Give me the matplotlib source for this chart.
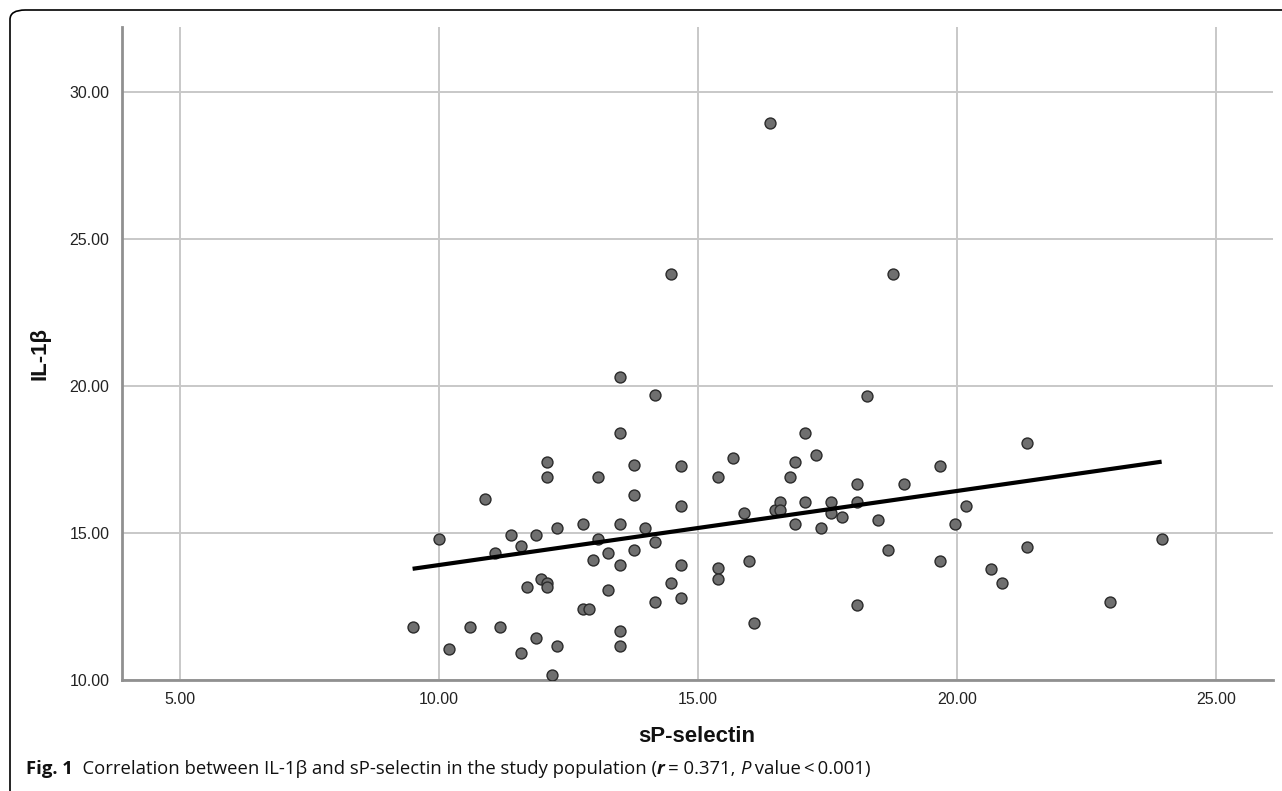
import numpy as np
import matplotlib.pyplot as plt
from matplotlib.patches import FancyBboxPatch

# sP-selectin (x) und IL-1beta (y)
sp_selectin = [9.49, 10.00, 10.19, 10.59, 10.89, 11.08, 11.18, 11.38, 11.59, 11.59,
               11.69, 11.88, 11.88, 11.97, 12.09, 12.09, 12.09, 12.09, 12.18, 12.28,
               12.28, 12.78, 12.78, 12.89, 12.98, 13.07, 13.07, 13.27, 13.27, 13.49,
               13.49, 13.49, 13.49, 13.49, 13.49, 13.77, 13.77, 13.77, 13.98, 14.17,
               14.17, 14.17, 14.48, 14.48, 14.67, 14.67, 14.67, 14.67, 15.38, 15.38,
               15.38, 15.68, 15.88, 15.98, 16.08, 16.38, 16.48, 16.58, 16.59, 16.78,
               16.88, 16.88, 17.07, 17.07, 17.27, 17.37, 17.57, 17.57, 17.77, 18.07,
               18.07, 18.07, 18.27, 18.47, 18.67, 18.77, 18.97, 19.67, 19.67, 19.96,
               20.17, 20.66, 20.86, 21.36, 21.36, 22.96, 23.95]
il_1b = [11.81, 14.80, 11.04, 11.81, 16.16, 14.31, 11.81, 14.93, 14.55, 10.92,
         13.17, 14.93, 11.44, 13.43, 17.42, 16.92, 13.31, 13.17, 10.17, 15.17,
         11.17, 15.30, 12.42, 12.42, 14.07, 16.92, 14.80, 14.31, 13.07, 20.31,
         18.42, 15.30, 13.92, 11.67, 11.17, 17.30, 16.30, 14.43, 15.18, 19.71,
         14.68, 12.67, 23.82, 13.29, 17.29, 15.93, 13.92, 12.80, 16.92, 13.80,
         13.43, 17.55, 15.68, 14.05, 11.93, 28.94, 15.79, 16.06, 15.79, 16.92,
         17.41, 15.30, 18.42, 16.06, 17.66, 15.17, 16.06, 15.68, 15.55, 16.66,
         16.06, 12.54, 19.67, 15.43, 14.43, 23.82, 16.66, 17.29, 14.05, 15.30,
         15.93, 13.79, 13.30, 18.06, 14.54, 12.67, 14.81]

x_ticks = [5, 10, 15, 20, 25]
y_ticks = [10, 15, 20, 25, 30]

x = np.array(sp_selectin)
y = np.array(il_1b)

W, H = 1282, 791
fig = plt.figure(figsize=(W / 100, H / 100), dpi=100)
ax = fig.add_axes([122 / W, 1 - 680 / H, (1273 - 122) / W, (680 - 27) / H])

ax.set_xlim(3.88, 26.1)
ax.set_ylim(10, 32.22)
ax.set_xticks(x_ticks)
ax.set_yticks(y_ticks)
ax.set_xticklabels(['%.2f' % v for v in x_ticks])
ax.set_yticklabels(['%.2f' % v for v in y_ticks])
ax.tick_params(length=0, labelsize=11.5, labelcolor='#222222', pad=9,
               labelfontfamily='Liberation Sans')
ax.grid(True, color='#c8c8c8', linewidth=1.4)
ax.set_axisbelow(True)
for s in ['top', 'right']:
    ax.spines[s].set_visible(False)
ax.spines['left'].set_color('#909090')
ax.spines['left'].set_linewidth(2)
ax.spines['bottom'].set_color('#909090')
ax.spines['bottom'].set_linewidth(2)

ax.scatter(x, y, s=62, facecolor='#6f6f6f', edgecolor='#2a2a2a', linewidth=1.0, zorder=3)

# Regressionsgerade
m, b = np.polyfit(x, y, 1)
xl = np.array([x.min(), x.max()])
ax.plot(xl, m * xl + b, color='black', linewidth=3, zorder=4, solid_capstyle='butt')

fig.text(697 / W, 1 - 737 / H, 'sP-selectin', ha='center', va='center',
         fontsize=16, fontweight='bold', family='Liberation Sans', color='#111111')
fig.text(40 / W, 1 - 354 / H, 'IL-1β', ha='center', va='center', rotation=90,
         fontsize=16, fontweight='bold', family='Liberation Sans', color='#111111')

# Rahmen
frame = FancyBboxPatch((10 / W, 1 - 800 / H), 1300 / W, 790 / H,
                       boxstyle='round,pad=0,rounding_size=0.012',
                       transform=fig.transFigure, facecolor='none',
                       edgecolor='black', linewidth=1.2, clip_on=False)
fig.patches.append(frame)

# Bildunterschrift
parts = [('Fig. 1', 'bold', 'normal'),
         ('  Correlation between IL-1β and sP-selectin in the study population (', 'normal', 'normal'),
         ('r', 'bold', 'italic'),
         ('\u2009= 0.371, ', 'normal', 'normal'),
         ('P', 'normal', 'italic'),
         (' value\u2009<\u20090.001)', 'normal', 'normal')]
fig.canvas.draw()
r = fig.canvas.get_renderer()
xpos = 26
for txt, w, st in parts:
    t = fig.text(xpos / W, 1 - 769 / H, txt, ha='left', va='center', fontsize=13.3,
                 fontweight=w, style=st, family=['Open Sans', 'DejaVu Sans'], color='#111111')
    bb = t.get_window_extent(renderer=r)
    xpos = xpos + bb.width

fig.savefig('out.png', dpi=100)
